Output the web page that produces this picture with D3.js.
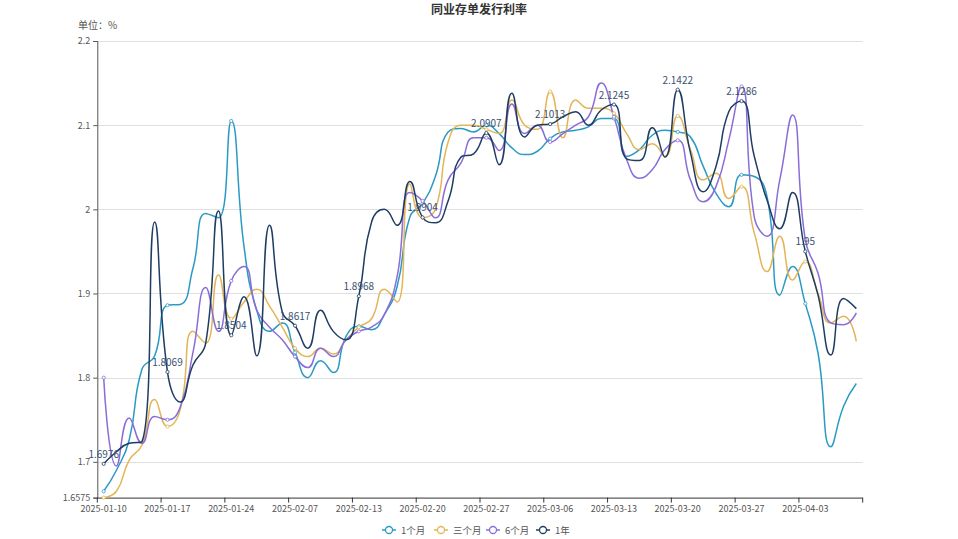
<!DOCTYPE html>
<html><head><meta charset="utf-8">
<script src="https://cdn.jsdelivr.net/npm/d3@7/dist/d3.min.js"></script>
<style>body{margin:0;background:#fff;} svg{display:block;font-family:"Noto Sans CJK SC","Noto Sans",sans-serif;}</style>
</head><body><svg id="c" width="958" height="539"></svg>
<script>
const dates = ["2025-01-10","2025-01-13","2025-01-14","2025-01-15","2025-01-16","2025-01-17","2025-01-20","2025-01-21","2025-01-22","2025-01-23","2025-01-24","2025-01-26","2025-01-27","2025-02-05","2025-02-06","2025-02-07","2025-02-08","2025-02-10","2025-02-11","2025-02-12","2025-02-13","2025-02-14","2025-02-17","2025-02-18","2025-02-19","2025-02-20","2025-02-21","2025-02-24","2025-02-25","2025-02-26","2025-02-27","2025-02-28","2025-03-03","2025-03-04","2025-03-05","2025-03-06","2025-03-07","2025-03-10","2025-03-11","2025-03-12","2025-03-13","2025-03-14","2025-03-17","2025-03-18","2025-03-19","2025-03-20","2025-03-21","2025-03-24","2025-03-25","2025-03-26","2025-03-27","2025-03-28","2025-03-31","2025-04-01","2025-04-02","2025-04-03","2025-04-07","2025-04-08","2025-04-09","2025-04-10"];
const seriesNames = ["1个月","三个月","6个月","1年"];
const m1 = [1.665,1.69,1.726,1.81,1.826,1.886,1.887,1.93,1.995,1.99,2.105,1.956,1.88,1.855,1.865,1.83,1.80,1.82,1.806,1.849,1.861,1.857,1.875,1.908,1.991,2.007,2.039,2.092,2.096,2.092,2.10,2.09,2.073,2.065,2.069,2.084,2.092,2.094,2.098,2.108,2.108,2.063,2.071,2.088,2.094,2.092,2.086,2.051,2.019,2.003,2.041,2.039,2.015,1.898,1.932,1.888,1.829,1.718,1.766,1.793];
const m3 = [1.6575,1.665,1.702,1.72,1.774,1.742,1.762,1.855,1.841,1.922,1.87,1.89,1.905,1.885,1.86,1.835,1.825,1.835,1.828,1.845,1.86,1.87,1.905,1.89,2.03,1.99,2.0,2.08,2.1,2.1,2.095,2.09,2.13,2.1,2.095,2.14,2.085,2.13,2.12,2.12,2.114,2.09,2.071,2.078,2.063,2.111,2.071,2.035,2.043,2.013,2.027,1.972,1.926,1.968,1.916,1.938,1.90,1.865,1.873,1.843];
const m6 = [1.80,1.695,1.752,1.722,1.754,1.75,1.765,1.83,1.907,1.855,1.915,1.932,1.88,1.86,1.845,1.825,1.812,1.835,1.825,1.845,1.855,1.86,1.875,1.92,2.02,2.01,1.99,2.035,2.055,2.085,2.085,2.07,2.125,2.09,2.1,2.08,2.09,2.1,2.11,2.15,2.11,2.059,2.037,2.047,2.071,2.082,2.035,2.009,2.027,2.082,2.146,1.991,1.968,2.035,2.112,1.964,1.924,1.865,1.863,1.877];
const y1 = [1.6976,1.712,1.722,1.724,1.985,1.8069,1.771,1.815,1.841,1.998,1.8504,1.896,1.826,1.981,1.878,1.8617,1.835,1.88,1.855,1.845,1.8968,1.985,2.0,1.981,2.033,1.9904,1.984,2.01,2.062,2.066,2.0907,2.053,2.138,2.086,2.1,2.1013,2.11,2.116,2.1,2.118,2.1245,2.06,2.058,2.097,2.062,2.1422,2.067,2.021,2.051,2.116,2.1286,2.063,2.011,1.977,2.02,1.95,1.898,1.827,1.894,1.882];
const yTicks = [1.6575,1.7,1.8,1.9,2.0,2.1,2.2];
const colors = ["#2a9ac4","#e4b556","#8a6ed8","#1f3d63"];
const seriesData = [m1,m3,m6,y1];
const labelSeries = 3;
const interval = 5;

const W = 958, H = 539;
const grid = {left: 97.3, right: 862.7, top: 41, bottom: 497.6};
const svg = d3.select("#c");

const x = d3.scaleBand().domain(dates).range([grid.left, grid.right]).paddingInner(0).paddingOuter(0);
const y = d3.scaleLinear().domain([d3.min(yTicks), d3.max(yTicks)]).range([grid.bottom, grid.top]);
const cx = d => x(d) + x.bandwidth()/2;

svg.append("text").attr("x", W/2).attr("y", 14).attr("text-anchor","middle")
  .attr("font-size", 12).attr("font-weight","bold").attr("fill","#333").text("同业存单发行利率");
svg.append("text").attr("x", 78).attr("y", 29).attr("font-size", 10).attr("fill","#555").text("单位：%");

svg.append("g").selectAll("line").data(yTicks.filter(t=>t>d3.min(yTicks))).join("line")
  .attr("x1", grid.left).attr("x2", grid.right)
  .attr("y1", d=>Math.round(y(d))+0.5).attr("y2", d=>Math.round(y(d))+0.5)
  .attr("stroke","#e0e0e0").attr("stroke-width",1);

const yAxis = d3.axisLeft(y).tickValues(yTicks).tickSize(4).tickPadding(3).tickFormat(d=>String(+d.toFixed(4)));
const gy = svg.append("g").attr("transform",`translate(${grid.left},0)`).call(yAxis);
gy.select(".domain").attr("stroke","#555");
gy.selectAll(".tick line").attr("stroke","#555");
gy.selectAll("text").attr("font-size",9).attr("fill","#555").attr("font-family","'Noto Sans CJK SC',sans-serif");

const tickDates = dates.filter((d,i)=>i%interval===0);
const gx = svg.append("g").attr("transform",`translate(0,${grid.bottom})`);
gx.append("line").attr("x1",grid.left).attr("x2",grid.right).attr("y1",0.5).attr("y2",0.5).attr("stroke","#333");
const bounds = tickDates.map(d=>x(d)).concat([grid.right]);
gx.selectAll("line.tk").data(bounds).join("line").attr("class","tk")
  .attr("x1",d=>d).attr("x2",d=>d).attr("y1",0).attr("y2",5).attr("stroke","#333");
gx.selectAll("text").data(tickDates).join("text")
  .attr("x", d=>cx(d)).attr("y", 14).attr("text-anchor","middle")
  .attr("font-size",9).attr("fill","#555").text(d=>d);

function smoothPath(pts, smooth) {
  const p = d3.path();
  let prevX, prevY, cpx0, cpy0;
  for (let k = 0; k < pts.length; k++) {
    const [x0, y0] = pts[k];
    if (k === 0) { p.moveTo(x0, y0); cpx0 = x0; cpy0 = y0; }
    else {
      let cpx1, cpy1, nextCpx0, nextCpy0;
      if (k === pts.length - 1) { cpx1 = x0; cpy1 = y0; nextCpx0 = x0; nextCpy0 = y0; }
      else {
        const [nx, ny] = pts[k+1];
        let vx = nx - prevX, vy = ny - prevY;
        const dx0 = x0 - prevX, dx1 = nx - x0, dy0 = y0 - prevY, dy1 = ny - y0;
        const lp = Math.sqrt(dx0*dx0 + dy0*dy0), ln = Math.sqrt(dx1*dx1 + dy1*dy1);
        const r = ln / (ln + lp);
        nextCpx0 = x0 + vx * smooth * r; nextCpy0 = y0 + vy * smooth * r;
        nextCpx0 = Math.min(nextCpx0, Math.max(nx, x0)); nextCpy0 = Math.min(nextCpy0, Math.max(ny, y0));
        nextCpx0 = Math.max(nextCpx0, Math.min(nx, x0)); nextCpy0 = Math.max(nextCpy0, Math.min(ny, y0));
        vx = nextCpx0 - x0; vy = nextCpy0 - y0;
        cpx1 = x0 - vx * lp / ln; cpy1 = y0 - vy * lp / ln;
        cpx1 = Math.min(cpx1, Math.max(prevX, x0)); cpy1 = Math.min(cpy1, Math.max(prevY, y0));
        cpx1 = Math.max(cpx1, Math.min(prevX, x0)); cpy1 = Math.max(cpy1, Math.min(prevY, y0));
        vx = x0 - cpx1; vy = y0 - cpy1;
        nextCpx0 = x0 + vx * ln / lp; nextCpy0 = y0 + vy * ln / lp;
      }
      p.bezierCurveTo(cpx0, cpy0, cpx1, cpy1, x0, y0);
      cpx0 = nextCpx0; cpy0 = nextCpy0;
    }
    prevX = x0; prevY = y0;
  }
  return p.toString();
}

const plot = svg.append("g");
seriesData.forEach((vals, s) => {
  const pts = vals.map((v,i)=>[cx(dates[i]), y(v)]);
  plot.append("path").attr("d", smoothPath(pts, 0.5)).attr("fill","none")
    .attr("stroke", colors[s]).attr("stroke-width", 1.5);
});
seriesData.forEach((vals, s) => {
  const idx = d3.range(0, vals.length, interval);
  plot.append("g").selectAll("circle").data(idx).join("circle")
    .attr("cx", i=>cx(dates[i])).attr("cy", i=>y(vals[i])).attr("r", 1.6)
    .attr("fill","#fff").attr("stroke", colors[s]).attr("stroke-width",0.8);
  if (s === labelSeries) {
    plot.append("g").selectAll("text").data(idx).join("text")
      .attr("x", i=>cx(dates[i])).attr("y", i=>y(vals[i]) - 6).attr("text-anchor","middle")
      .attr("font-size",10).attr("fill", "#3a5272").text(i=>vals[i]);
  }
});

const lg = svg.append("g");
const legendX = [382, 434, 486, 536];
seriesNames.forEach((n, s) => {
  const g = lg.append("g").attr("transform", `translate(${legendX[s]},530)`);
  g.append("line").attr("x1",0).attr("x2",14).attr("y1",0).attr("y2",0).attr("stroke",colors[s]).attr("stroke-width",1.5);
  g.append("circle").attr("cx",7).attr("cy",0).attr("r",3.5).attr("fill","#fff").attr("stroke",colors[s]).attr("stroke-width",1.3);
  g.append("text").attr("x",19).attr("y",3.5).attr("font-size",9.5).attr("fill","#555").text(n);
});
</script>
</body></html>
